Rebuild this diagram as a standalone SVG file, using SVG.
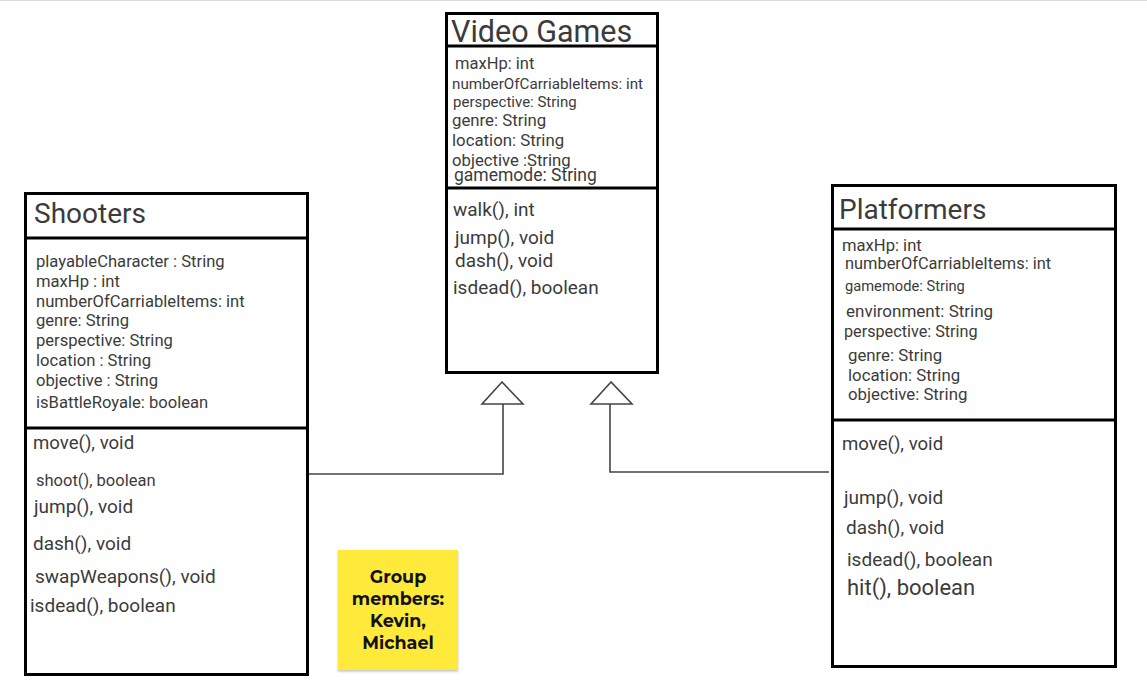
<svg xmlns="http://www.w3.org/2000/svg" width="1147" height="685" viewBox="0 0 1147 685">
<defs>
<style>
.box{fill:#fff;stroke:#000;stroke-width:3}
.div{stroke:#000;stroke-width:3}
.t{font-family:Roboto,"Liberation Sans",sans-serif;fill:#3b3b3b}
.conn{fill:none;stroke:#444;stroke-width:1.6}
.tri{fill:#fff;stroke:#444;stroke-width:1.6;stroke-linejoin:miter}
.note{font-family:Montserrat,"Open Sans","Liberation Sans",sans-serif;font-weight:bold;font-size:17.5px;fill:#111;text-anchor:middle}
</style>
<filter id="sh" x="-10%" y="-10%" width="130%" height="130%">
<feDropShadow dx="0" dy="1.5" stdDeviation="1.2" flood-color="#000" flood-opacity="0.25"/>
</filter>
</defs>
<rect width="1147" height="685" fill="#fff"/>
<line x1="0" y1="0.5" x2="1147" y2="0.5" stroke="#dcdcdc" stroke-width="1"/>

<g id="connectors">
<polyline class="conn" points="309,474 503,474 503,404"/>
<polygon class="tri" points="502,382 482,404 523,404"/>
<polyline class="conn" points="829,472 610,472 610,404"/>
<polygon class="tri" points="611,382 591,404 632,404"/>
</g>

<g id="video-games">
<rect class="box" x="446.5" y="13.5" width="211" height="359"/>
<line class="div" x1="446" y1="46" x2="658" y2="46"/>
<line class="div" x1="446" y1="188" x2="658" y2="188"/>
<text class="t" x="451" y="42" font-size="30.5">Video Games</text>
<text class="t" x="455" y="69" font-size="16.5">maxHp: int</text>
<text class="t" x="452" y="89" font-size="15.2">numberOfCarriableItems: int</text>
<text class="t" x="453" y="107" font-size="15">perspective: String</text>
<text class="t" x="452" y="126" font-size="16.8">genre: String</text>
<text class="t" x="452" y="146" font-size="16.8">location: String</text>
<text class="t" x="452" y="166" font-size="16.7">objective :String</text>
<text class="t" x="454" y="181" font-size="17.5">gamemode: String</text>
<text class="t" x="453" y="216" font-size="19">walk(), int</text>
<text class="t" x="455" y="244" font-size="19">jump(), void</text>
<text class="t" x="455" y="267" font-size="19">dash(), void</text>
<text class="t" x="453" y="294" font-size="19">isdead(), boolean</text>
</g>

<g id="shooters">
<rect class="box" x="25.5" y="193.5" width="282" height="481"/>
<line class="div" x1="25" y1="238" x2="308" y2="238"/>
<line class="div" x1="25" y1="428" x2="308" y2="428"/>
<text class="t" x="34" y="223" font-size="28">Shooters</text>
<text class="t" x="36" y="267" font-size="16.6">playableCharacter : String</text>
<text class="t" x="36" y="287" font-size="16.6">maxHp : int</text>
<text class="t" x="36" y="307" font-size="16.6">numberOfCarriableItems: int</text>
<text class="t" x="36" y="326" font-size="16.6">genre: String</text>
<text class="t" x="36" y="346" font-size="16.6">perspective: String</text>
<text class="t" x="36" y="366" font-size="16.6">location : String</text>
<text class="t" x="36" y="386" font-size="16.6">objective : String</text>
<text class="t" x="36" y="408" font-size="16.6">isBattleRoyale: boolean</text>
<text class="t" x="33" y="449" font-size="18.6">move(), void</text>
<text class="t" x="36" y="486" font-size="16.5">shoot(), boolean</text>
<text class="t" x="34" y="513" font-size="19">jump(), void</text>
<text class="t" x="33" y="550" font-size="19">dash(), void</text>
<text class="t" x="35" y="583" font-size="19">swapWeapons(), void</text>
<text class="t" x="30" y="612" font-size="19">isdead(), boolean</text>
</g>

<g id="platformers">
<rect class="box" x="832.5" y="185.5" width="283" height="481"/>
<line class="div" x1="832" y1="229" x2="1116" y2="229"/>
<line class="div" x1="832" y1="420" x2="1116" y2="420"/>
<text class="t" x="839" y="219" font-size="28">Platformers</text>
<text class="t" x="842" y="251" font-size="16.6">maxHp: int</text>
<text class="t" x="845" y="269" font-size="16.4">numberOfCarriableItems: int</text>
<text class="t" x="845" y="291" font-size="14.7">gamemode:  String</text>
<text class="t" x="846" y="317" font-size="17">environment: String</text>
<text class="t" x="844" y="337" font-size="16.2">perspective: String</text>
<text class="t" x="848" y="361" font-size="16.8">genre: String</text>
<text class="t" x="848" y="381" font-size="16.8">location: String</text>
<text class="t" x="848" y="400" font-size="16.8">objective: String</text>
<text class="t" x="842" y="450" font-size="18.6">move(), void</text>
<text class="t" x="844" y="504" font-size="19">jump(), void</text>
<text class="t" x="846" y="534" font-size="19">dash(), void</text>
<text class="t" x="847" y="566" font-size="19">isdead(), boolean</text>
<text class="t" x="847" y="595" font-size="22">hit(), boolean</text>
</g>

<g id="sticky-note">
<rect x="338" y="550" width="120" height="120" fill="#ffe93b" filter="url(#sh)"/>
<text class="note" x="398" y="583">Group</text>
<text class="note" x="398" y="605">members:</text>
<text class="note" x="398" y="627">Kevin,</text>
<text class="note" x="398" y="649">Michael</text>
</g>
</svg>
